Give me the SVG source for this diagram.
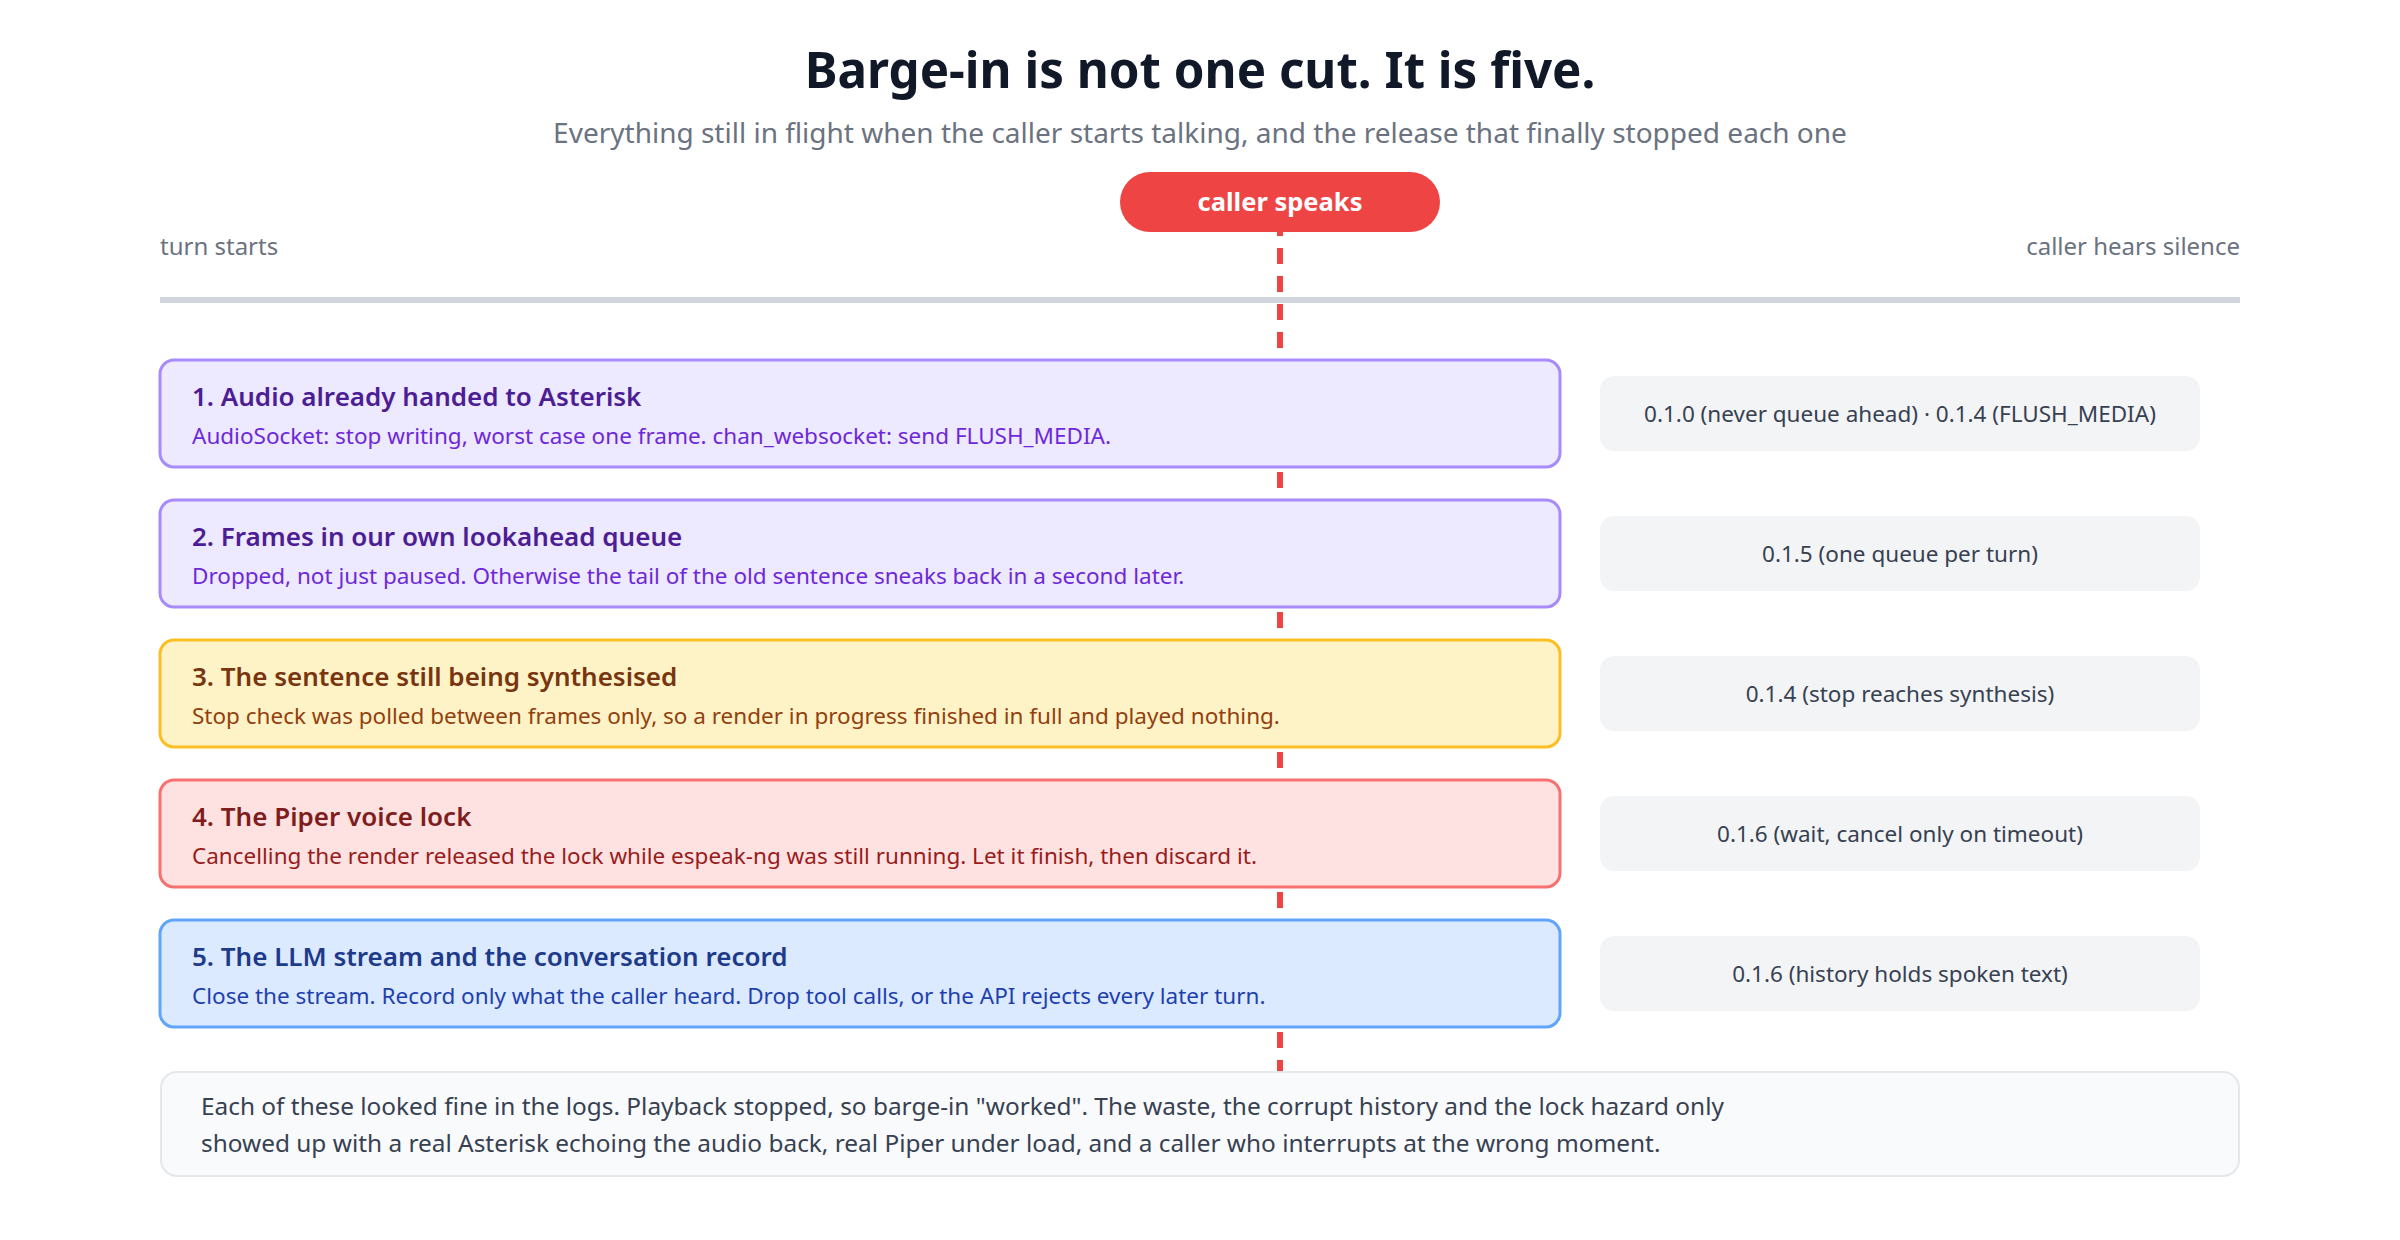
<svg xmlns="http://www.w3.org/2000/svg" width="2400" height="1240" viewBox="0 0 2400 1240">
<style>
text{font-family:"Noto Sans","Open Sans","DejaVu Sans",sans-serif}
.title{font-size:49.3px;font-weight:700;fill:#111827}
.subtitle{font-size:28px;fill:#6b7280}
.axis{font-size:24px;fill:#6b7280}
.pilltext{font-size:25.5px;font-weight:700;fill:#ffffff}
.h{font-size:26px;font-weight:600}
.d{font-size:22.5px}
.rel{fill:#f3f4f6}
.reltext{font-size:22.5px;fill:#374151}
.foot{font-size:24.4px;fill:#374151}
</style>
<rect width="2400" height="1240" fill="#ffffff"/>
<text class="title" x="1200" y="88" text-anchor="middle">Barge-in is not one cut. It is five.</text>
<text class="subtitle" x="1200" y="143" text-anchor="middle">Everything still in flight when the caller starts talking, and the release that finally stopped each one</text>
<text class="axis" x="160" y="255">turn starts</text>
<text class="axis" x="2240" y="255" text-anchor="end">caller hears silence</text>
<rect x="160" y="297" width="2080" height="6" fill="#d1d5db"/>
<g id="connectors">
<line x1="1280" y1="220" x2="1280" y2="1072" stroke="#ef4444" stroke-width="6" stroke-dasharray="16 12"/>
</g>
<g id="caller-speaks">
<rect x="1120" y="172" width="320" height="60" rx="30" fill="#ef4444"/>
<text class="pilltext" x="1280" y="211" text-anchor="middle">caller speaks</text>
</g>
<g id="cut1">
<rect x="160" y="360" width="1400" height="107" rx="14" fill="#ede9fe" stroke="#a78bfa" stroke-width="3"/>
<text class="h" x="192" y="406" fill="#4c1d95">1. Audio already handed to Asterisk</text>
<text class="d" x="192" y="444" fill="#6d28d9">AudioSocket: stop writing, worst case one frame. chan_websocket: send FLUSH_MEDIA.</text>
</g>
<g id="release1">
<rect class="rel" x="1600" y="376" width="600" height="75" rx="14"/>
<text class="reltext" x="1900" y="422" text-anchor="middle">0.1.0 (never queue ahead) · 0.1.4 (FLUSH_MEDIA)</text>
</g>
<g id="cut2">
<rect x="160" y="500" width="1400" height="107" rx="14" fill="#ede9fe" stroke="#a78bfa" stroke-width="3"/>
<text class="h" x="192" y="546" fill="#4c1d95">2. Frames in our own lookahead queue</text>
<text class="d" x="192" y="584" fill="#6d28d9">Dropped, not just paused. Otherwise the tail of the old sentence sneaks back in a second later.</text>
</g>
<g id="release2">
<rect class="rel" x="1600" y="516" width="600" height="75" rx="14"/>
<text class="reltext" x="1900" y="562" text-anchor="middle">0.1.5 (one queue per turn)</text>
</g>
<g id="cut3">
<rect x="160" y="640" width="1400" height="107" rx="14" fill="#fef3c7" stroke="#fbbf24" stroke-width="3"/>
<text class="h" x="192" y="686" fill="#78350f">3. The sentence still being synthesised</text>
<text class="d" x="192" y="724" fill="#92400e">Stop check was polled between frames only, so a render in progress finished in full and played nothing.</text>
</g>
<g id="release3">
<rect class="rel" x="1600" y="656" width="600" height="75" rx="14"/>
<text class="reltext" x="1900" y="702" text-anchor="middle">0.1.4 (stop reaches synthesis)</text>
</g>
<g id="cut4">
<rect x="160" y="780" width="1400" height="107" rx="14" fill="#fee2e2" stroke="#f87171" stroke-width="3"/>
<text class="h" x="192" y="826" fill="#7f1d1d">4. The Piper voice lock</text>
<text class="d" x="192" y="864" fill="#991b1b">Cancelling the render released the lock while espeak-ng was still running. Let it finish, then discard it.</text>
</g>
<g id="release4">
<rect class="rel" x="1600" y="796" width="600" height="75" rx="14"/>
<text class="reltext" x="1900" y="842" text-anchor="middle">0.1.6 (wait, cancel only on timeout)</text>
</g>
<g id="cut5">
<rect x="160" y="920" width="1400" height="107" rx="14" fill="#dbeafe" stroke="#60a5fa" stroke-width="3"/>
<text class="h" x="192" y="966" fill="#1e3a8a">5. The LLM stream and the conversation record</text>
<text class="d" x="192" y="1004" fill="#1e40af">Close the stream. Record only what the caller heard. Drop tool calls, or the API rejects every later turn.</text>
</g>
<g id="release5">
<rect class="rel" x="1600" y="936" width="600" height="75" rx="14"/>
<text class="reltext" x="1900" y="982" text-anchor="middle">0.1.6 (history holds spoken text)</text>
</g>
<g id="footer">
<rect x="161" y="1072" width="2078" height="104" rx="16" fill="#f9fafb" stroke="#e5e7eb" stroke-width="2"/>
<text class="foot" x="201" y="1115">Each of these looked fine in the logs. Playback stopped, so barge-in "worked". The waste, the corrupt history and the lock hazard only</text>
<text class="foot" x="201" y="1152">showed up with a real Asterisk echoing the audio back, real Piper under load, and a caller who interrupts at the wrong moment.</text>
</g>
</svg>
